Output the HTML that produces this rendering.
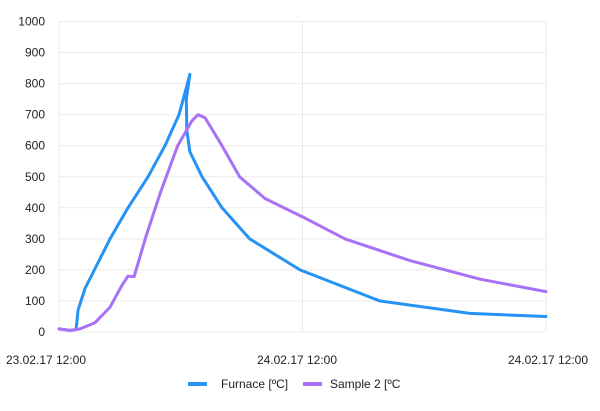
<!DOCTYPE html>
<html><head><meta charset="utf-8"><style>
body{margin:0;background:#fff;font-family:"Liberation Sans",sans-serif}
svg text{font-family:"Liberation Sans",sans-serif;font-size:12px;fill:#222}
</style></head><body>
<svg id="chart" width="600" height="406" viewBox="0 0 600 406"></svg>
<script>
const yTicks=[0,100,200,300,400,500,600,700,800,900,1000];
const xTickHours=[0,24,48];
const xTickLabels=["23.02.17 12:00","24.02.17 12:00","24.02.17 12:00"];
const furnaceHours=[0,1.08,1.68,1.77,1.87,2.56,5.03,6.8,8.77,10.45,11.83,12.5,12.9,12.55,12.6,12.9,14.1,16.07,18.8,23.75,31.6,40.5,48];
const furnaceTemp=[10,5,8,35,70,140,300,400,500,600,700,780,830,750,650,580,500,400,300,200,100,60,50];
const sampleHours=[0,1.08,2.07,3.55,5.03,6.2,6.8,7.4,8.5,10,11.7,13.1,13.7,14.4,16.07,17.8,20.3,24.05,28.2,34.6,41.5,48];
const sampleTemp=[10,5,10,30,80,150,180,178,300,450,600,680,700,690,600,500,430,370,300,230,170,130];
const NS="http://www.w3.org/2000/svg";
const svg=document.getElementById('chart');
const X0=59,X1=546,Y0=332,Y1=21.5;
const xs=h=>X0+(h/48)*(X1-X0);
const ys=v=>Y0-(v/1000)*(Y0-Y1);
function mk(t,a){const e=document.createElementNS(NS,t);for(const k in a)e.setAttribute(k,a[k]);svg.appendChild(e);return e;}
yTicks.forEach(v=>{
  const l=mk('line',{x1:X0,x2:X1,y1:ys(v),y2:ys(v),stroke:'#ebebeb','stroke-width':1});
  
  
  const t=mk('text',{x:45,y:ys(v)+4,'text-anchor':'end'});t.textContent=v;
  
  
});
xTickHours.forEach((h,i)=>{
  const l=mk('line',{x1:xs(h),x2:xs(h),y1:Y1,y2:Y0,stroke:'#ebebeb','stroke-width':1});
  
  
  const cx=[46,297,548][i];
  const t=mk('text',{x:cx,y:364,'text-anchor':'middle'});t.textContent=xTickLabels[i];
  
  
});
function path(hs,vs){return hs.map((h,i)=>(i?'L':'M')+xs(h).toFixed(1)+' '+ys(vs[i]).toFixed(1)).join(' ');}
const f=mk('path',{d:path(furnaceHours,furnaceTemp),fill:'none',stroke:'#2592f5','stroke-width':3,'stroke-linejoin':'round','stroke-linecap':'round'});


const s=mk('path',{d:path(sampleHours,sampleTemp),fill:'none',stroke:'#a772f6','stroke-width':3,'stroke-linejoin':'round','stroke-linecap':'round'});


const l1=mk('line',{x1:188,x2:207,y1:384,y2:384,stroke:'#2592f5','stroke-width':4});


const t1=mk('text',{x:221,y:388});t1.textContent='Furnace [ºC]';


const l2=mk('line',{x1:303,x2:322,y1:384,y2:384,stroke:'#a772f6','stroke-width':4});


const t2=mk('text',{x:330,y:388});t2.textContent='Sample 2 [ºC';


</script>
</body></html>
